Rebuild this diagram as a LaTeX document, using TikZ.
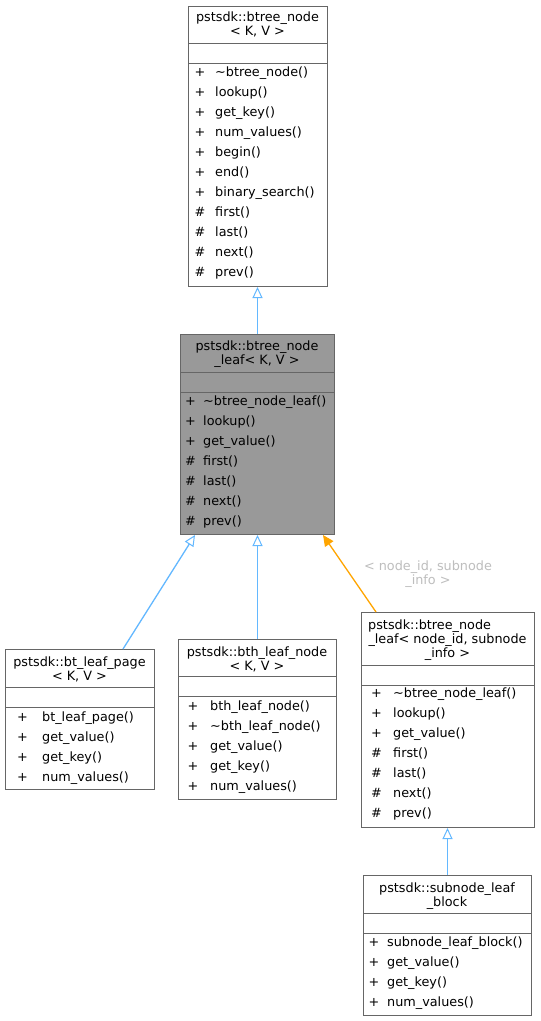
\documentclass[tikz,border=0pt]{standalone}
\usepackage{fontspec}
\setmainfont{DejaVu Sans}
\usetikzlibrary{arrows.meta}

\definecolor{boxgrey}{HTML}{666666}
\definecolor{leafgrey}{HTML}{999999}
\definecolor{edgeblue}{HTML}{63B8FF}
\definecolor{edgeorange}{HTML}{FFA500}
\definecolor{labelgrey}{HTML}{BEBEBE}

\tikzset{
  classbox/.style={draw=boxgrey, line width=1pt, fill=white, inner sep=0pt, anchor=north west},
  title/.style={font=\fontsize{12.8}{14}\selectfont, inner sep=0pt, text height=10pt, text depth=1pt},
  member/.style={title, anchor=west},
  sepline/.style={boxgrey, line width=1pt},
  inherit/.style={edgeblue, line width=1.3pt, -{Triangle[open, length=11pt, width=10pt, line width=1pt]}},
  instance/.style={edgeorange, line width=1.3pt, -{Triangle[length=11pt, width=10pt]}},
}

\begin{document}
\begin{tikzpicture}[x=1pt, y=-1pt]

  \useasboundingbox (0,0) rectangle (541,1021);
  \fill[white] (0,0) rectangle (541,1021);

  % base class
  \node[classbox, minimum width=139pt, minimum height=280pt] (btnode) at (188,6) {};
  \node[title] (btnode-t1) at (257.5,17) {pstsdk::btree\_node};
  \node[title] (btnode-t2) at (257.5,31) {< K, V >};
  \foreach \y in {43, 63}{
      \draw[sepline] (btnode.west |- 0,\y) -- (btnode.east |- 0,\y);
    }
  \foreach \s/\m [count=\i from 0] in {+/\textasciitilde btree\_node(), +/lookup(),
      +/get\_key(), +/num\_values(), +/begin(), +/end(), +/binary\_search(),
      \#/first(), \#/last(), \#/next(), \#/prev()}{
      \node[title] (btnode-s\i) at (200,{72+20*\i}) {\s};
      \node[member] (btnode-m\i) at (215,{72+20*\i}) {\m};
    }

  % btree_node_leaf < K, V >
  \node[classbox, fill=leafgrey, minimum width=154pt, minimum height=200pt] (btleaf) at (180,334) {};
  \node[title] (btleaf-t1) at (257,346) {pstsdk::btree\_node};
  \node[title] (btleaf-t2) at (257,360) {\_leaf< K, V >};
  \foreach \y in {372, 392}{
      \draw[sepline] (btleaf.west |- 0,\y) -- (btleaf.east |- 0,\y);
    }
  \foreach \s/\m [count=\i from 0] in {+/\textasciitilde btree\_node\_leaf(), +/lookup(),
      +/get\_value(), \#/first(), \#/last(), \#/next(), \#/prev()}{
      \node[title] (btleaf-s\i) at (190.5,{401+20*\i}) {\s};
      \node[member] (btleaf-m\i) at (203,{401+20*\i}) {\m};
    }

  % bt_leaf_page
  \node[classbox, minimum width=149pt, minimum height=140pt] (leafpage) at (5,649) {};
  \node[title] (leafpage-t1) at (79.5,662) {pstsdk::bt\_leaf\_page};
  \node[title] (leafpage-t2) at (79.5,676) {< K, V >};
  \foreach \y in {687, 707}{
      \draw[sepline] (leafpage.west |- 0,\y) -- (leafpage.east |- 0,\y);
    }
  \foreach \s/\m [count=\i from 0] in {+/bt\_leaf\_page(), +/get\_value(),
      +/get\_key(), +/num\_values()}{
      \node[title] (leafpage-s\i) at (22.5,{717+20*\i}) {\s};
      \node[member] (leafpage-m\i) at (42,{717+20*\i}) {\m};
    }

  % bth_leaf_node
  \node[classbox, minimum width=158pt, minimum height=160pt] (bthnode) at (178,639) {};
  \node[title] (bthnode-t1) at (257,652) {pstsdk::bth\_leaf\_node};
  \node[title] (bthnode-t2) at (257,666) {< K, V >};
  \foreach \y in {676, 696}{
      \draw[sepline] (bthnode.west |- 0,\y) -- (bthnode.east |- 0,\y);
    }
  \foreach \s/\m [count=\i from 0] in {+/bth\_leaf\_node(), +/\textasciitilde bth\_leaf\_node(),
      +/get\_value(), +/get\_key(), +/num\_values()}{
      \node[title] (bthnode-s\i) at (193,{706+20*\i}) {\s};
      \node[member] (bthnode-m\i) at (210,{706+20*\i}) {\m};
    }

  % btree_node_leaf < node_id, subnode_info >
  \node[classbox, minimum width=173pt, minimum height=215pt] (subleaf) at (361,612) {};
  \node[title, anchor=west] (subleaf-t1) at (368,625) {pstsdk::btree\_node};
  \node[title] (subleaf-t2) at (447.5,639) {\_leaf< node\_id, subnode};
  \node[title] (subleaf-t3) at (447.5,653) {\_info >};
  \foreach \y in {665, 685}{
      \draw[sepline] (subleaf.west |- 0,\y) -- (subleaf.east |- 0,\y);
    }
  \foreach \s/\m [count=\i from 0] in {+/\textasciitilde btree\_node\_leaf(), +/lookup(),
      +/get\_value(), \#/first(), \#/last(), \#/next(), \#/prev()}{
      \node[title] (subleaf-s\i) at (376.5,{693+20*\i}) {\s};
      \node[member] (subleaf-m\i) at (393,{693+20*\i}) {\m};
    }

  % subnode_leaf_block
  \node[classbox, minimum width=168pt, minimum height=140pt] (block) at (363,875) {};
  \node[title] (block-t1) at (447,888) {pstsdk::subnode\_leaf};
  \node[title] (block-t2) at (447,902) {\_block};
  \foreach \y in {913, 933}{
      \draw[sepline] (block.west |- 0,\y) -- (block.east |- 0,\y);
    }
  \foreach \s/\m [count=\i from 0] in {+/subnode\_leaf\_block(), +/get\_value(),
      +/get\_key(), +/num\_values()}{
      \node[title] (block-s\i) at (374,{942+20*\i}) {\s};
      \node[member] (block-m\i) at (387,{942+20*\i}) {\m};
    }

  % inheritance
  \draw[inherit] (btleaf.north -| 257.5,0) -- (btnode.south -| 257.5,0);
  \draw[inherit] (leafpage.north -| 123,0) -- (btleaf.south -| 195,0);
  \draw[inherit] (bthnode.north -| 257.5,0) -- (btleaf.south -| 257.5,0);
  \draw[instance] (subleaf.north -| 376,0) -- (btleaf.south -| 323,0);
  \draw[inherit] (block.north -| 447.5,0) -- (subleaf.south -| 447.5,0);

  \node[title, labelgrey] (tpl-1) at (428,566) {< node\_id, subnode};
  \node[title, labelgrey] (tpl-2) at (428,580) {\_info >};

\end{tikzpicture}
\end{document}
